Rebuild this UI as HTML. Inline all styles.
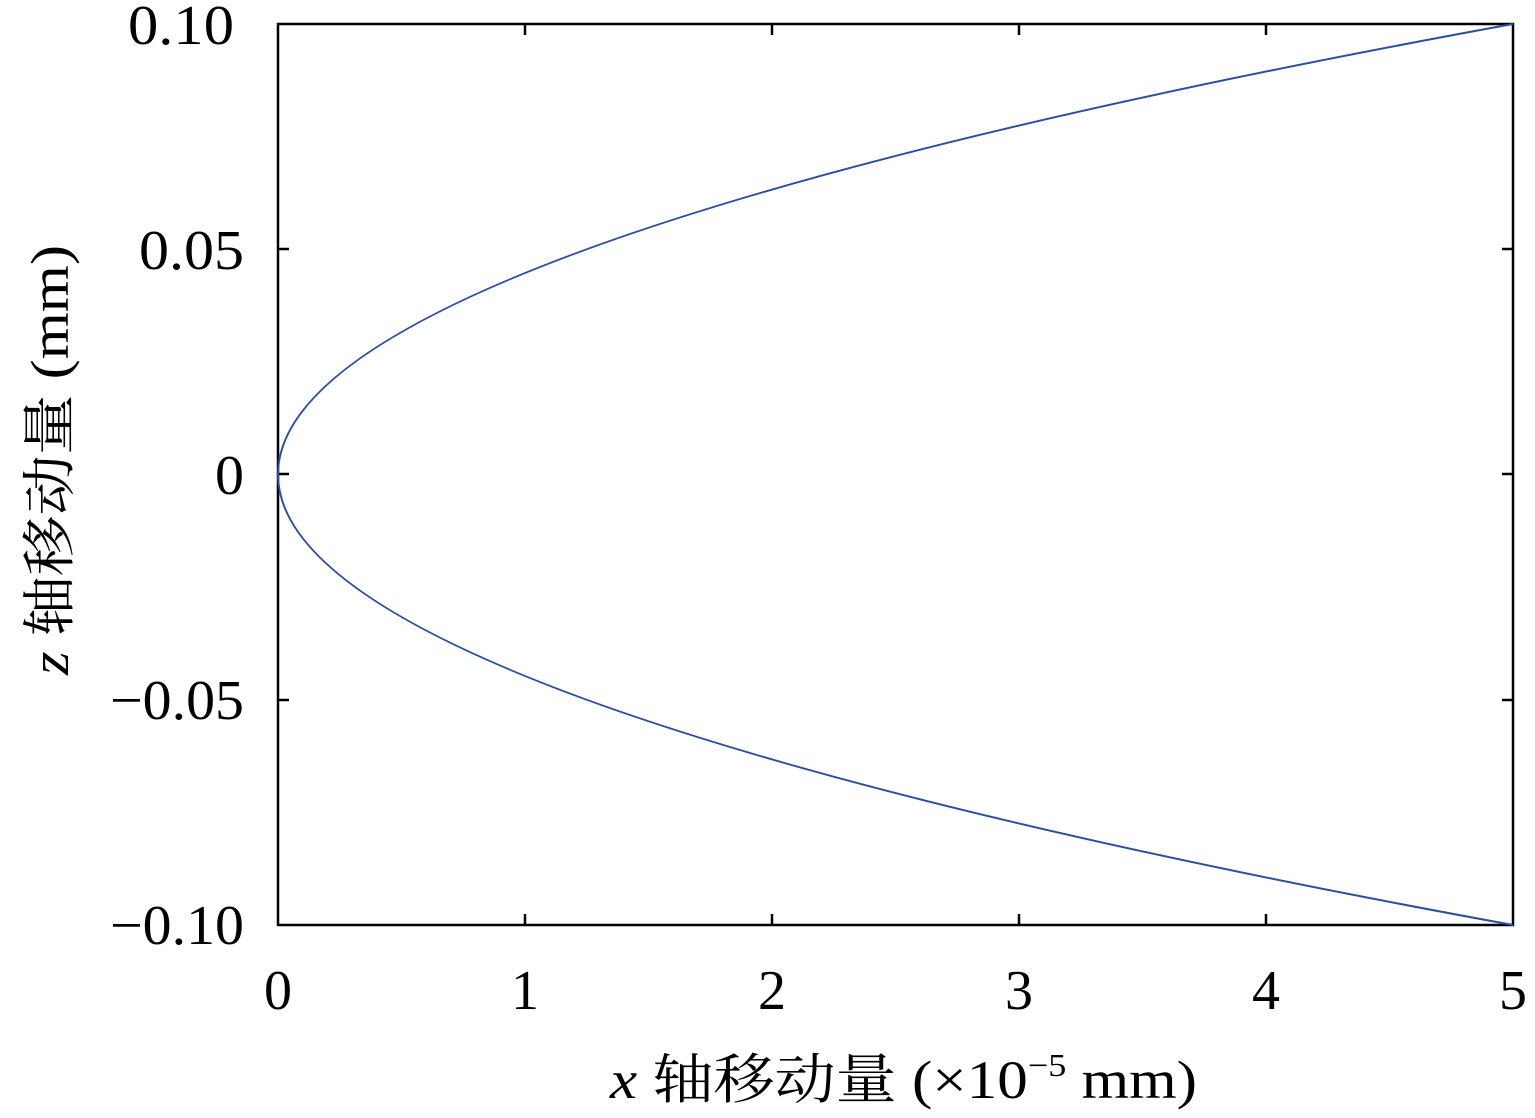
<!DOCTYPE html>
<html><head><meta charset="utf-8"><style>
html,body{margin:0;padding:0;background:#fff;}
svg{display:block;}
text{font-family:"Liberation Serif","Noto Serif CJK SC","Noto Sans CJK SC",serif;fill:#000;}
</style></head><body>
<svg width="1535" height="1118" viewBox="0 0 1535 1118" xmlns="http://www.w3.org/2000/svg">
<rect x="0" y="0" width="1535" height="1118" fill="#fff"/>
<g stroke="#000" stroke-width="2.5" fill="none">
<rect x="278" y="24" width="1235" height="901"/>
<path d="M525,925v-11M772,925v-11M1019,925v-11M1266,925v-11M525,24v11M772,24v11M1019,24v11M1266,24v11
M278,249h11M278,474h11M278,700h11M1513,249h-11M1513,474h-11M1513,700h-11"/>
</g>
<path d="M1513,925 Q-957,474.5 1513,24" stroke="#2a4fa0" stroke-width="2" fill="none"/>
<g font-size="56">
<text x="128" y="44" textLength="106" lengthAdjust="spacingAndGlyphs">0.10</text>
<text x="139" y="269" textLength="105" lengthAdjust="spacingAndGlyphs">0.05</text>
<text x="215" y="494" textLength="29" lengthAdjust="spacingAndGlyphs">0</text>
<text x="110" y="719" textLength="134" lengthAdjust="spacingAndGlyphs">−0.05</text>
<text x="110" y="944" textLength="134" lengthAdjust="spacingAndGlyphs">−0.10</text>
</g>
<g font-size="56" text-anchor="middle">
<text x="278" y="1009">0</text>
<text x="525" y="1009">1</text>
<text x="772" y="1009">2</text>
<text x="1019" y="1009">3</text>
<text x="1266" y="1009">4</text>
<text x="1513" y="1009">5</text>
</g>
<text x="610" y="1098" font-size="54" textLength="587" lengthAdjust="spacingAndGlyphs"><tspan font-style="italic">x</tspan> 轴移动量 (×10<tspan font-size="32" dy="-22">−5</tspan><tspan dy="22"> mm)</tspan></text>
<text transform="translate(68,675) rotate(-90)" font-size="54" textLength="430" lengthAdjust="spacingAndGlyphs"><tspan font-style="italic">z</tspan> 轴移动量 (mm)</text>
</svg>
</body></html>
